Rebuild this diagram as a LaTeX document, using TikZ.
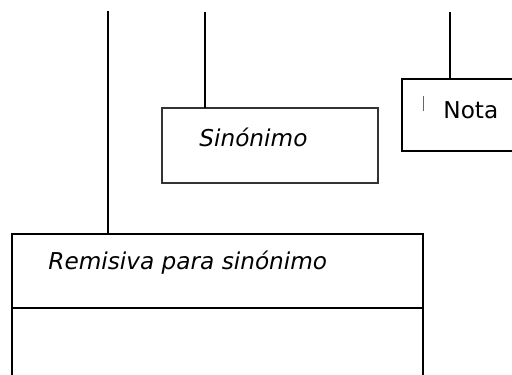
\documentclass[tikz,border=0pt]{standalone}
\usepackage{fontspec}
\setmainfont{DejaVu Sans}
\usetikzlibrary{positioning}
\tikzset{
      entry box/.style = {draw, line width=0.9pt, inner sep=0pt, outer sep=0pt, anchor=north west},
      thin box/.style  = {entry box, draw=black!80, line width=0.75pt},
      label text/.style = {font=\fontsize{11.6}{14}\selectfont, inner sep=0pt, anchor=base west},
      link/.style   = {black, line width=0.9pt},
    }

\begin{document}
\begin{tikzpicture}[x=0.5pt,y=-0.5pt]
        \useasboundingbox (0,0) rectangle (512,374);
        \clip (0,0) rectangle (512,374);
        % boxes
        \node [thin box, minimum width=108pt, minimum height=37.5pt] (sin) at (162,108) {};
        \node [entry box, minimum width=75pt, minimum height=36pt] (nota) at (402,79) {};
        \node [entry box, minimum width=205.5pt, minimum height=37pt] (rem) at (12,234) {};
        \node [entry box, minimum width=205.5pt, minimum height=40pt] (remlow) at (rem.south west) {};
        % texts
        \node [label text] (sintext) at (199,146) {\itshape Sinónimo};
        \node [label text] (notatext) at (443,118) {Nota};
        \node [label text] (remtext) at (48,269) {\itshape Remisiva para sinónimo};
        \draw [black!60, line width=0.5pt] (423,96) -- (423,111);
        % connectors from above
        \coordinate (up1) at (108,11);
        \coordinate (up2) at (205,12);
        \coordinate (up3) at (450,12);
        \draw [link] (up1) -- (up1 |- rem.north);
        \draw [link] (up2) -- (up2 |- sin.north);
        \draw [link] (up3) -- (up3 |- nota.north);
    \end{tikzpicture}
\end{document}
